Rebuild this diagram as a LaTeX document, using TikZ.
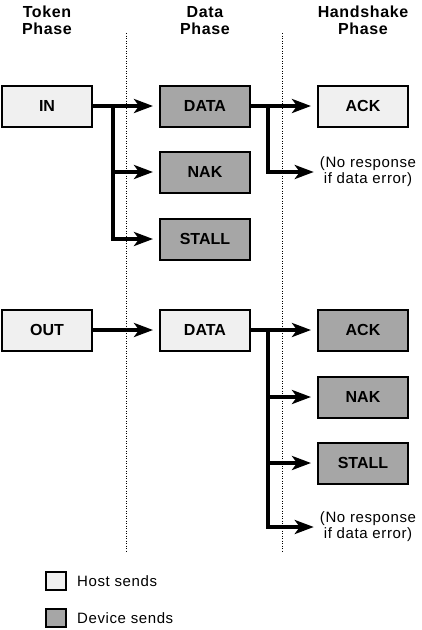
\documentclass[tikz,border=0pt]{standalone}
\usepackage{fontspec}
\setmainfont{Liberation Sans}
\newfontfamily\spacedsans[LetterSpace=4]{Liberation Sans}
\usetikzlibrary{arrows.meta}

\definecolor{hostfill}{RGB}{240,240,240}
\definecolor{devicefill}{RGB}{166,166,166}

\tikzset{
  packet/.style={
    rectangle,
    draw,
    line width=2pt,
    minimum width=90pt,
    minimum height=41pt,
    inner sep=0pt,
    text centered,
    font=\fontsize{16}{17}\selectfont\bfseries
  },
  host/.style={packet, fill=hostfill},
  device/.style={packet, fill=devicefill},
  flow/.style={
    line width=4pt,
    -{Stealth[length=19pt,width=14pt,inset=5pt]},
    shorten >=6pt
  },
  phase/.style={
    anchor=north,
    inner sep=0pt,
    align=center,
    font=\fontsize{16}{17}\selectfont\spacedsans\bfseries
  },
  note/.style={
    inner sep=0pt,
    align=center,
    font=\fontsize{15}{16}\selectfont\spacedsans
  },
  divider/.style={line width=1pt, dash pattern=on 1pt off 1.5pt},
  key/.style={
    rectangle,
    draw,
    line width=2pt,
    minimum width=20pt,
    minimum height=18pt,
    inner sep=0pt
  },
  keytext/.style={
    anchor=west,
    inner sep=0pt,
    font=\fontsize{15}{17}\selectfont\spacedsans
  },
}

\begin{document}
\begin{tikzpicture}[x=1pt, y=-1pt]
  \useasboundingbox (0,0) rectangle (421,630);
  % phase headings
  \node[phase] (token) at (47,6) {Token\\Phase};
  \node[phase] (datap) at (205,6) {Data\\Phase};
  \node[phase] (hand) at (363,6) {Handshake\\Phase};
  % phase borders
  \coordinate (d1top) at (126,33);
  \coordinate (d1bot) at (126,552);
  \coordinate (d2top) at (282,33);
  \coordinate (d2bot) at (282,552);
  \draw[divider] (d1top) -- (d1bot);
  \draw[divider] (d2top) -- (d2bot);

  % IN transaction
  \node[host, anchor=center] (in) at (47,106) {IN};
  \node[device, anchor=center] (data1) at (205,106) {DATA};
  \node[device, anchor=center] (nak1) at (205,172) {NAK};
  \node[device, anchor=center] (stall1) at (205,239) {STALL};
  \node[host, anchor=center] (ack1) at (363,106) {ACK};
  \node[note, anchor=center] (none1) at (368,172) {(No response\\if data error)};
  \coordinate (b1) at (113,106);
  \coordinate (b2) at (268,106);
  \draw[flow] (in) -- (data1);
  \draw[flow] (b1) |- (nak1);
  \draw[flow] (b1) |- (stall1);
  \draw[flow] (data1) -- (ack1);
  \draw[flow] (b2) |- (none1);

  % OUT transaction
  \node[host, anchor=center] (out) at (47,330) {OUT};
  \node[host, anchor=center] (data2) at (205,330) {DATA};
  \node[device, anchor=center] (ack2) at (363,330) {ACK};
  \node[device, anchor=center] (nak2) at (363,397) {NAK};
  \node[device, anchor=center] (stall2) at (363,463) {STALL};
  \node[note, anchor=center] (none2) at (368,527) {(No response\\if data error)};
  \coordinate (b3) at (268,330);
  \draw[flow] (out) -- (data2);
  \draw[flow] (data2) -- (ack2);
  \draw[flow] (b3) |- (nak2);
  \draw[flow] (b3) |- (stall2);
  \draw[flow] (b3) |- (none2);

  % legend
  \node[key, fill=hostfill] (hostkey) at (56,581) {};
  \node[keytext] (hosttxt) at (77,581) {Host sends};
  \node[key, fill=devicefill] (devkey) at (56,618) {};
  \node[keytext] (devtxt) at (77,618) {Device sends};
\end{tikzpicture}
\end{document}
